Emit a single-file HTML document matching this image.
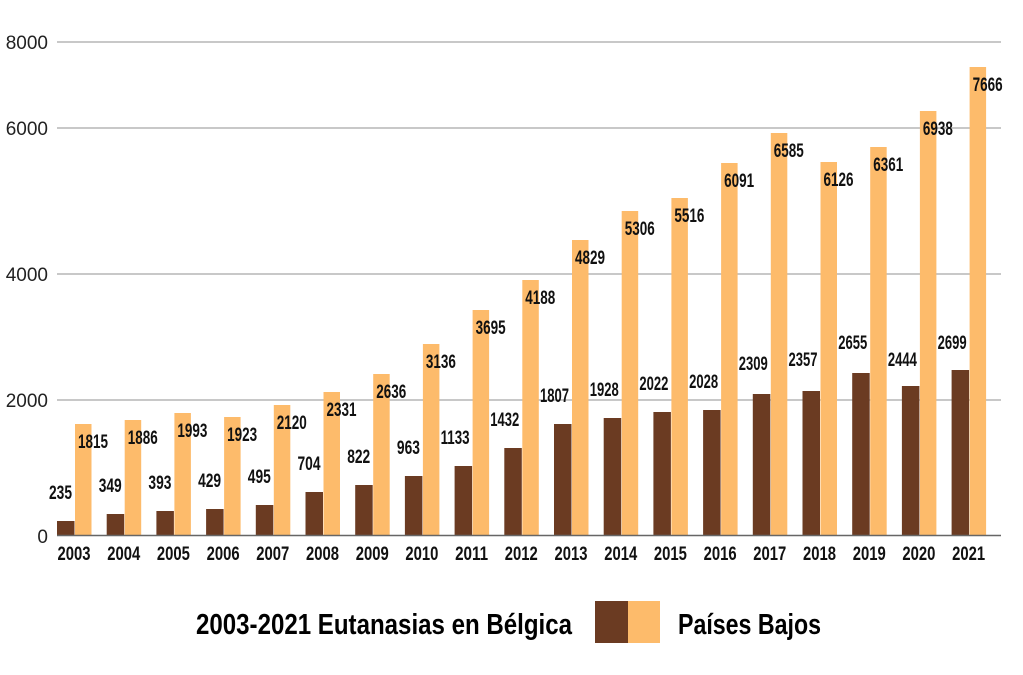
<!DOCTYPE html>
<html><head><meta charset="utf-8"><style>
html,body{margin:0;padding:0;background:#fff;}
svg{display:block}
.n{font-family:"Liberation Sans",sans-serif;font-weight:bold;font-size:19px;fill:#111;}
.y{font-family:"Liberation Sans",sans-serif;font-size:19px;fill:#222;}
.b{fill:#6b3b22}.o{fill:#fdbb6b}
</style></head><body>
<svg width="1023" height="675" viewBox="0 0 1023 675" xmlns="http://www.w3.org/2000/svg">
<g stroke="#b5b5b5" stroke-width="1.5">
<line x1="57" y1="42" x2="1001" y2="42"/>
<line x1="57" y1="128" x2="1001" y2="128"/>
<line x1="57" y1="274" x2="1001" y2="274"/>
<line x1="57" y1="400" x2="1001" y2="400"/>
</g>
<g class="y" text-anchor="end">
<text x="48" y="49">8000</text>
<text x="48" y="135">6000</text>
<text x="48" y="281">4000</text>
<text x="48" y="407">2000</text>
<text x="48" y="543">0</text>
</g>

<g transform="translate(57,0)"><rect class="b" x="0" y="521" width="17.5" height="15"/><rect class="o" x="18" y="424" width="16.5" height="112"/><text class="n" x="15" y="499" text-anchor="end" textLength="23" lengthAdjust="spacingAndGlyphs">235</text><text class="n" x="21" y="448" textLength="30" lengthAdjust="spacingAndGlyphs">1815</text><text class="n" x="17" y="560" text-anchor="middle" textLength="33" lengthAdjust="spacingAndGlyphs">2003</text></g>
<g transform="translate(106.7,0)"><rect class="b" x="0" y="514" width="17.5" height="22"/><rect class="o" x="18" y="420" width="16.5" height="116"/><text class="n" x="15" y="492" text-anchor="end" textLength="23" lengthAdjust="spacingAndGlyphs">349</text><text class="n" x="21" y="444" textLength="30" lengthAdjust="spacingAndGlyphs">1886</text><text class="n" x="17" y="560" text-anchor="middle" textLength="33" lengthAdjust="spacingAndGlyphs">2004</text></g>
<g transform="translate(156.4,0)"><rect class="b" x="0" y="511" width="17.5" height="25"/><rect class="o" x="18" y="413" width="16.5" height="123"/><text class="n" x="15" y="489" text-anchor="end" textLength="23" lengthAdjust="spacingAndGlyphs">393</text><text class="n" x="21" y="437" textLength="30" lengthAdjust="spacingAndGlyphs">1993</text><text class="n" x="17" y="560" text-anchor="middle" textLength="33" lengthAdjust="spacingAndGlyphs">2005</text></g>
<g transform="translate(206.1,0)"><rect class="b" x="0" y="509" width="17.5" height="27"/><rect class="o" x="18" y="417" width="16.5" height="119"/><text class="n" x="15" y="487" text-anchor="end" textLength="23" lengthAdjust="spacingAndGlyphs">429</text><text class="n" x="21" y="441" textLength="30" lengthAdjust="spacingAndGlyphs">1923</text><text class="n" x="17" y="560" text-anchor="middle" textLength="33" lengthAdjust="spacingAndGlyphs">2006</text></g>
<g transform="translate(255.8,0)"><rect class="b" x="0" y="505" width="17.5" height="31"/><rect class="o" x="18" y="405" width="16.5" height="131"/><text class="n" x="15" y="483" text-anchor="end" textLength="23" lengthAdjust="spacingAndGlyphs">495</text><text class="n" x="21" y="429" textLength="30" lengthAdjust="spacingAndGlyphs">2120</text><text class="n" x="17" y="560" text-anchor="middle" textLength="33" lengthAdjust="spacingAndGlyphs">2007</text></g>
<g transform="translate(305.5,0)"><rect class="b" x="0" y="492" width="17.5" height="44"/><rect class="o" x="18" y="392" width="16.5" height="144"/><text class="n" x="15" y="470" text-anchor="end" textLength="23" lengthAdjust="spacingAndGlyphs">704</text><text class="n" x="21" y="416" textLength="30" lengthAdjust="spacingAndGlyphs">2331</text><text class="n" x="17" y="560" text-anchor="middle" textLength="33" lengthAdjust="spacingAndGlyphs">2008</text></g>
<g transform="translate(355.2,0)"><rect class="b" x="0" y="485" width="17.5" height="51"/><rect class="o" x="18" y="374" width="16.5" height="162"/><text class="n" x="15" y="463" text-anchor="end" textLength="23" lengthAdjust="spacingAndGlyphs">822</text><text class="n" x="21" y="398" textLength="30" lengthAdjust="spacingAndGlyphs">2636</text><text class="n" x="17" y="560" text-anchor="middle" textLength="33" lengthAdjust="spacingAndGlyphs">2009</text></g>
<g transform="translate(404.9,0)"><rect class="b" x="0" y="476" width="17.5" height="60"/><rect class="o" x="18" y="344" width="16.5" height="192"/><text class="n" x="15" y="454" text-anchor="end" textLength="23" lengthAdjust="spacingAndGlyphs">963</text><text class="n" x="21" y="368" textLength="30" lengthAdjust="spacingAndGlyphs">3136</text><text class="n" x="17" y="560" text-anchor="middle" textLength="33" lengthAdjust="spacingAndGlyphs">2010</text></g>
<g transform="translate(454.6,0)"><rect class="b" x="0" y="466" width="17.5" height="70"/><rect class="o" x="18" y="310" width="16.5" height="226"/><text class="n" x="15" y="444" text-anchor="end" textLength="29" lengthAdjust="spacingAndGlyphs">1133</text><text class="n" x="21" y="334" textLength="30" lengthAdjust="spacingAndGlyphs">3695</text><text class="n" x="17" y="560" text-anchor="middle" textLength="33" lengthAdjust="spacingAndGlyphs">2011</text></g>
<g transform="translate(504.3,0)"><rect class="b" x="0" y="448" width="17.5" height="88"/><rect class="o" x="18" y="280" width="16.5" height="256"/><text class="n" x="15" y="426" text-anchor="end" textLength="29" lengthAdjust="spacingAndGlyphs">1432</text><text class="n" x="21" y="304" textLength="30" lengthAdjust="spacingAndGlyphs">4188</text><text class="n" x="17" y="560" text-anchor="middle" textLength="33" lengthAdjust="spacingAndGlyphs">2012</text></g>
<g transform="translate(554,0)"><rect class="b" x="0" y="424" width="17.5" height="112"/><rect class="o" x="18" y="240" width="16.5" height="296"/><text class="n" x="15" y="402" text-anchor="end" textLength="29" lengthAdjust="spacingAndGlyphs">1807</text><text class="n" x="21" y="264" textLength="30" lengthAdjust="spacingAndGlyphs">4829</text><text class="n" x="17" y="560" text-anchor="middle" textLength="33" lengthAdjust="spacingAndGlyphs">2013</text></g>
<g transform="translate(603.7,0)"><rect class="b" x="0" y="418" width="17.5" height="118"/><rect class="o" x="18" y="211" width="16.5" height="325"/><text class="n" x="15" y="396" text-anchor="end" textLength="29" lengthAdjust="spacingAndGlyphs">1928</text><text class="n" x="21" y="235" textLength="30" lengthAdjust="spacingAndGlyphs">5306</text><text class="n" x="17" y="560" text-anchor="middle" textLength="33" lengthAdjust="spacingAndGlyphs">2014</text></g>
<g transform="translate(653.4,0)"><rect class="b" x="0" y="412" width="17.5" height="124"/><rect class="o" x="18" y="198" width="16.5" height="338"/><text class="n" x="15" y="390" text-anchor="end" textLength="29" lengthAdjust="spacingAndGlyphs">2022</text><text class="n" x="21" y="222" textLength="30" lengthAdjust="spacingAndGlyphs">5516</text><text class="n" x="17" y="560" text-anchor="middle" textLength="33" lengthAdjust="spacingAndGlyphs">2015</text></g>
<g transform="translate(703.1,0)"><rect class="b" x="0" y="410" width="17.5" height="126"/><rect class="o" x="18" y="163" width="16.5" height="373"/><text class="n" x="15" y="388" text-anchor="end" textLength="29" lengthAdjust="spacingAndGlyphs">2028</text><text class="n" x="21" y="187" textLength="30" lengthAdjust="spacingAndGlyphs">6091</text><text class="n" x="17" y="560" text-anchor="middle" textLength="33" lengthAdjust="spacingAndGlyphs">2016</text></g>
<g transform="translate(752.8,0)"><rect class="b" x="0" y="394" width="17.5" height="142"/><rect class="o" x="18" y="133" width="16.5" height="403"/><text class="n" x="15" y="370" text-anchor="end" textLength="29" lengthAdjust="spacingAndGlyphs">2309</text><text class="n" x="21" y="157" textLength="30" lengthAdjust="spacingAndGlyphs">6585</text><text class="n" x="17" y="560" text-anchor="middle" textLength="33" lengthAdjust="spacingAndGlyphs">2017</text></g>
<g transform="translate(802.5,0)"><rect class="b" x="0" y="391" width="17.5" height="145"/><rect class="o" x="18" y="162" width="16.5" height="374"/><text class="n" x="15" y="366" text-anchor="end" textLength="29" lengthAdjust="spacingAndGlyphs">2357</text><text class="n" x="21" y="186" textLength="30" lengthAdjust="spacingAndGlyphs">6126</text><text class="n" x="17" y="560" text-anchor="middle" textLength="33" lengthAdjust="spacingAndGlyphs">2018</text></g>
<g transform="translate(852.2,0)"><rect class="b" x="0" y="373" width="17.5" height="163"/><rect class="o" x="18" y="147" width="16.5" height="389"/><text class="n" x="15" y="349" text-anchor="end" textLength="29" lengthAdjust="spacingAndGlyphs">2655</text><text class="n" x="21" y="171" textLength="30" lengthAdjust="spacingAndGlyphs">6361</text><text class="n" x="17" y="560" text-anchor="middle" textLength="33" lengthAdjust="spacingAndGlyphs">2019</text></g>
<g transform="translate(901.9,0)"><rect class="b" x="0" y="386" width="17.5" height="150"/><rect class="o" x="18" y="111" width="16.5" height="425"/><text class="n" x="15" y="366" text-anchor="end" textLength="29" lengthAdjust="spacingAndGlyphs">2444</text><text class="n" x="21" y="135" textLength="30" lengthAdjust="spacingAndGlyphs">6938</text><text class="n" x="17" y="560" text-anchor="middle" textLength="33" lengthAdjust="spacingAndGlyphs">2020</text></g>
<g transform="translate(951.6,0)"><rect class="b" x="0" y="370" width="17.5" height="166"/><rect class="o" x="18" y="67" width="16.5" height="469"/><text class="n" x="15" y="349" text-anchor="end" textLength="29" lengthAdjust="spacingAndGlyphs">2699</text><text class="n" x="21" y="91" textLength="30" lengthAdjust="spacingAndGlyphs">7666</text><text class="n" x="17" y="560" text-anchor="middle" textLength="33" lengthAdjust="spacingAndGlyphs">2021</text></g>

<line x1="57" y1="535.5" x2="1001" y2="535.5" stroke="#666" stroke-width="1.5"/>
<g font-family="Liberation Sans,sans-serif" font-weight="bold" font-size="29" fill="#000">
<text x="196" y="634" textLength="376" lengthAdjust="spacingAndGlyphs">2003-2021 Eutanasias en Bélgica</text>
<text x="678" y="634" textLength="143" lengthAdjust="spacingAndGlyphs">Países Bajos</text>
</g>
<rect x="595" y="601" width="33" height="42" fill="#6b3b22"/>
<rect x="628" y="601" width="32" height="42" fill="#fdbb6b"/>
</svg>
</body></html>
